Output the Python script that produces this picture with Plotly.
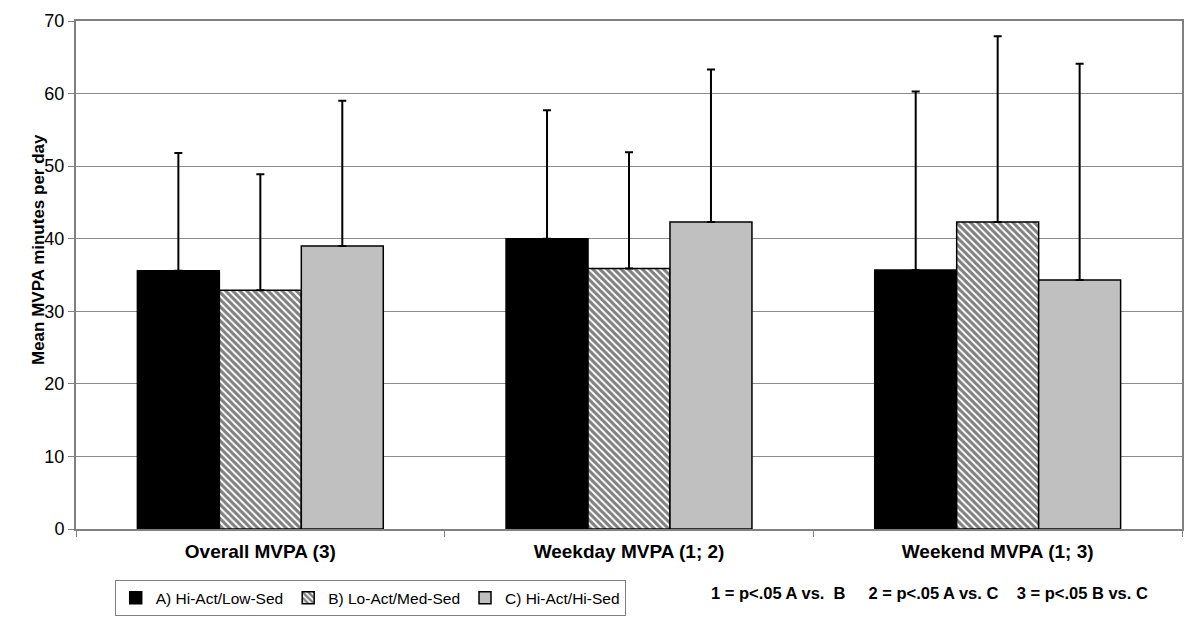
import plotly.graph_objects as go

# Данные
categories = ['Overall MVPA (3)', 'Weekday MVPA (1; 2)', 'Weekend MVPA (1; 3)']
groups = ['A) Hi-Act/Low-Sed', 'B) Lo-Act/Med-Sed', 'C) Hi-Act/Hi-Sed']
mean_a = [35.6, 40.0, 35.7]
mean_b = [32.9, 35.9, 42.3]
mean_c = [39.0, 42.3, 34.3]
sd_a = [16.2, 17.7, 24.6]
sd_b = [16.0, 16.0, 25.6]
sd_c = [20.0, 21.0, 29.8]

font = 'Liberation Sans, Arial, sans-serif'

fig = go.Figure()

# Столбцы для каждой группы
styles = [
    dict(color='black', pattern=None),
    dict(color='white', pattern=dict(shape='\\', fgcolor='black', bgcolor='white',
                                     size=5, solidity=0.6, fillmode='overlay')),
    dict(color='#c0c0c0', pattern=None),
]
for name, means, sds, st in zip(groups, [mean_a, mean_b, mean_c],
                                [sd_a, sd_b, sd_c], styles):
    marker = dict(color=st['color'], line=dict(color='black', width=1.5))
    if st['pattern']:
        marker['pattern'] = st['pattern']
    fig.add_trace(go.Bar(
        x=categories, y=means, name=name, marker=marker,
        error_y=dict(type='data', array=sds, symmetric=False,
                     arrayminus=[0] * len(sds), color='black',
                     thickness=2, width=4),
    ))

# Подпись со значимостью
fig.add_annotation(
    text='1 = p<.05 A vs.  B     2 = p<.05 A vs. C    3 = p<.05 B vs. C',
    xref='paper', yref='paper', x=0.772, y=-0.126,
    xanchor='center', yanchor='middle', showarrow=False,
    font=dict(family=font, size=16.5, color='black', weight='bold'),
)

# Подпись оси Y
fig.add_annotation(
    text='Mean MVPA minutes per day', textangle=-90,
    xref='paper', yref='paper', x=-0.034, y=0.55,
    xanchor='center', yanchor='middle', showarrow=False,
    font=dict(family=font, size=17, color='black', weight='bold'),
)

# у страницы отступ 8px, поэтому фигура чуть меньше окна (без прокрутки)
fig.update_layout(
    width=1184, height=610,
    margin=dict(l=68, r=10, t=13, b=89),
    paper_bgcolor='white', plot_bgcolor='white',
    barmode='group', bargap=0.333, bargroupgap=0,
    font=dict(family=font, color='black'),
    showlegend=True,
    legend=dict(
        orientation='h', x=0.035, xanchor='left',
        yref='container', y=0.062, yanchor='top',
        bordercolor='#808080', borderwidth=1, bgcolor='white',
        font=dict(family=font, size=15.5), itemwidth=30,
    ),
    xaxis=dict(
        showgrid=False, showline=True, linecolor='#808080', linewidth=2,
        mirror=True, ticks='outside', tickson='boundaries', ticklen=6,
        tickcolor='#808080', automargin=False, ticklabelstandoff=4,
        tickfont=dict(family=font, size=19, weight='bold'),
    ),
    yaxis=dict(
        range=[0, 70], dtick=10, showgrid=True, gridcolor='#8c8c8c',
        gridwidth=1, showline=True, linecolor='#808080', linewidth=2,
        mirror=True, ticks='outside', ticklen=6, tickcolor='#808080',
        tickfont=dict(family=font, size=18), automargin=False,
        zeroline=False,
    ),
)

fig.write_html('out.html')
